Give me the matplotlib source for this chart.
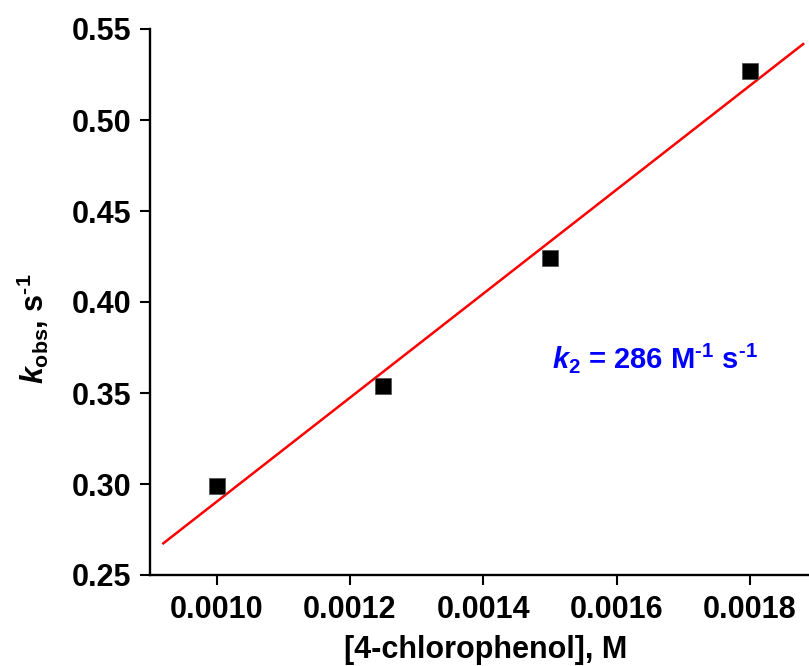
import numpy as np
import matplotlib
matplotlib.use("Agg")
import matplotlib.pyplot as plt

# Data
conc = [0.0010, 0.00125, 0.0015, 0.0018]
kobs = [0.299, 0.354, 0.424, 0.527]
fit_range = [0.00092, 0.00188]
xticks = [0.0010, 0.0012, 0.0014, 0.0016, 0.0018]
yticks = [0.25, 0.30, 0.35, 0.40, 0.45, 0.50, 0.55]

plt.rcParams['font.family'] = 'Liberation Sans'
plt.rcParams['font.weight'] = 'bold'
plt.rcParams['mathtext.fontset'] = 'custom'
plt.rcParams['mathtext.rm'] = 'Liberation Sans:bold'
plt.rcParams['mathtext.it'] = 'Liberation Sans:bold:italic'
plt.rcParams['mathtext.bf'] = 'Liberation Sans:bold'

W, H = 809, 666
fig = plt.figure(figsize=(W / 100, H / 100), dpi=100)
left, bottom, top = 150, 575, 29
xl = (0.0009, 0.0019)
px_per_x = (350 - 216.7) / 0.0002
width_px = (xl[1] - xl[0]) * px_per_x
ax = fig.add_axes([left / W, (H - bottom) / H, width_px / W, (bottom - top) / H])

slope, intercept = np.polyfit(conc, kobs, 1)
xf = np.array(fit_range)
ax.plot(xf, slope * xf + intercept, color='#ff0000', lw=1.8, zorder=2)
ax.plot(conc, kobs, 's', color='black', markersize=11, markeredgecolor='#555555',
        markeredgewidth=0.6, zorder=3)

ax.set_xlim(*xl)
ax.set_ylim(0.25, 0.55)
ax.set_xticks(xticks)
ax.set_yticks(yticks)
ax.set_xticklabels([f"{v:.4f}" for v in xticks])
ax.set_yticklabels([f"{v:.2f}" for v in yticks])

for s in ['top', 'right']:
    ax.spines[s].set_visible(False)
for s in ['left', 'bottom']:
    ax.spines[s].set_linewidth(1.7)
ax.tick_params(direction='out', length=7.5, width=1.5, labelsize=22)
ax.tick_params(axis='y', pad=6)
ax.tick_params(axis='x', pad=7)
for lab in ax.get_xticklabels() + ax.get_yticklabels():
    lab.set_fontweight('bold')

fig.text(486 / W, 1 - 658 / H, '[4-chlorophenol], M', ha='center', va='baseline',
         fontsize=22, fontweight='bold')
fig.text(33 / W, 1 - 329 / H, r'$k_{\mathrm{obs}}$, s$^{\text{-1}}$', ha='center', va='center',
         rotation=90, fontsize=22, fontweight='bold')

ax.text(0.001658, 0.369, r'$k_{\mathrm{2}}$ = 286 M$^{\text{-1}}$ s$^{\text{-1}}$',
        color='#0000ff', fontsize=21, fontweight='bold', ha='center', va='center')

fig.savefig('out.png', dpi=100)
